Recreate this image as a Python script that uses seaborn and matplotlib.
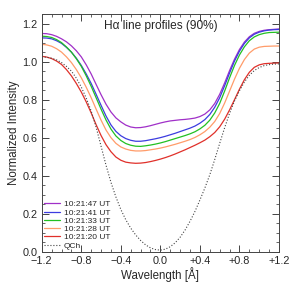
import numpy as np
import pandas as pd
import matplotlib
matplotlib.use("Agg")
import matplotlib.pyplot as plt
import seaborn as sns
from matplotlib.ticker import MultipleLocator, FuncFormatter

# wavelength from line centre [A]
wavelength = [-1.20, -1.15, -1.10, -1.05, -1.00, -0.95, -0.90, -0.85, -0.80, -0.75,
              -0.70, -0.65, -0.60, -0.55, -0.50, -0.45, -0.40, -0.35, -0.30, -0.25,
              -0.20, -0.15, -0.10, -0.05, 0.00, 0.05, 0.10, 0.15, 0.20, 0.25,
              0.30, 0.35, 0.40, 0.45, 0.50, 0.55, 0.60, 0.65, 0.70, 0.75,
              0.80, 0.85, 0.90, 0.95, 1.00, 1.05, 1.10, 1.15, 1.20]

# normalized intensity
prof_2147 = [1.148, 1.147, 1.142, 1.133, 1.120, 1.104, 1.083, 1.057, 1.025, 0.983,
             0.935, 0.880, 0.826, 0.776, 0.735, 0.704, 0.683, 0.666, 0.656, 0.652,
             0.653, 0.657, 0.663, 0.670, 0.677, 0.683, 0.688, 0.691, 0.694, 0.696,
             0.699, 0.703, 0.711, 0.724, 0.746, 0.780, 0.828, 0.888, 0.953, 1.013,
             1.064, 1.103, 1.131, 1.149, 1.159, 1.165, 1.168, 1.170, 1.172]
prof_2141 = [1.125, 1.124, 1.120, 1.110, 1.096, 1.075, 1.050, 1.018, 0.980, 0.935,
             0.885, 0.828, 0.770, 0.714, 0.667, 0.633, 0.610, 0.595, 0.586, 0.581,
             0.581, 0.584, 0.589, 0.594, 0.600, 0.607, 0.615, 0.623, 0.632, 0.641,
             0.650, 0.661, 0.676, 0.695, 0.722, 0.760, 0.810, 0.873, 0.940, 1.003,
             1.055, 1.096, 1.125, 1.144, 1.155, 1.162, 1.166, 1.168, 1.169]
prof_2133 = [1.134, 1.132, 1.127, 1.116, 1.100, 1.077, 1.050, 1.015, 0.975, 0.925,
             0.870, 0.810, 0.750, 0.693, 0.645, 0.609, 0.585, 0.569, 0.560, 0.555,
             0.554, 0.557, 0.561, 0.566, 0.572, 0.579, 0.587, 0.595, 0.603, 0.611,
             0.620, 0.631, 0.646, 0.665, 0.692, 0.730, 0.780, 0.845, 0.915, 0.980,
             1.035, 1.078, 1.110, 1.130, 1.142, 1.149, 1.153, 1.154, 1.155]
prof_2128 = [1.091, 1.088, 1.081, 1.068, 1.050, 1.025, 0.995, 0.958, 0.915, 0.865,
             0.810, 0.750, 0.692, 0.640, 0.600, 0.570, 0.551, 0.540, 0.533, 0.530,
             0.530, 0.532, 0.536, 0.540, 0.545, 0.551, 0.558, 0.565, 0.573, 0.581,
             0.590, 0.601, 0.615, 0.632, 0.655, 0.685, 0.727, 0.782, 0.845, 0.908,
             0.965, 1.011, 1.045, 1.066, 1.076, 1.080, 1.081, 1.082, 1.082]
prof_2120 = [1.028, 1.024, 1.016, 1.003, 0.985, 0.958, 0.925, 0.885, 0.840, 0.788,
             0.730, 0.668, 0.611, 0.563, 0.526, 0.498, 0.481, 0.471, 0.467, 0.465,
             0.466, 0.469, 0.474, 0.480, 0.487, 0.495, 0.504, 0.514, 0.525, 0.536,
             0.548, 0.560, 0.573, 0.587, 0.605, 0.627, 0.657, 0.697, 0.746, 0.800,
             0.855, 0.905, 0.944, 0.970, 0.983, 0.989, 0.991, 0.992, 0.993]
qch = [1.025, 1.023, 1.018, 1.009, 0.995, 0.975, 0.950, 0.913, 0.866, 0.808,
       0.740, 0.655, 0.555, 0.455, 0.365, 0.288, 0.222, 0.168, 0.124, 0.088,
       0.059, 0.036, 0.020, 0.011, 0.008, 0.013, 0.026, 0.047, 0.076, 0.114,
       0.160, 0.212, 0.272, 0.335, 0.405, 0.485, 0.570, 0.652, 0.728, 0.793,
       0.847, 0.893, 0.928, 0.953, 0.969, 0.979, 0.984, 0.987, 0.988]

times = ["10:21:47 UT", "10:21:41 UT", "10:21:33 UT", "10:21:28 UT", "10:21:20 UT"]
colors = ["#a030c8", "#3c3ce0", "#22c022", "#ff9c6a", "#e0302a"]
profiles = [prof_2147, prof_2141, prof_2133, prof_2128, prof_2120]

sns.set_style("ticks")
plt.rcParams["font.family"] = ["Liberation Sans", "DejaVu Sans"]

fig = plt.figure(figsize=(2.94, 2.94), dpi=100)
ax = fig.add_axes([0.142, 0.144, 0.807, 0.808])

handles = []
for t, c, p in zip(times, colors, profiles):
    df = pd.DataFrame({"wl": wavelength, "I": p})
    sns.lineplot(data=df, x="wl", y="I", color=c, lw=0.9, ax=ax)
    handles.append(ax.lines[-1])
df = pd.DataFrame({"wl": wavelength, "I": qch})
sns.lineplot(data=df, x="wl", y="I", color="#444444", lw=0.8, ls=":", ax=ax)
handles.append(ax.lines[-1])

ax.set_xlim(-1.2, 1.2)
ax.set_ylim(0, 1.25)
ax.xaxis.set_major_locator(MultipleLocator(0.4))
ax.xaxis.set_minor_locator(MultipleLocator(0.1))
ax.yaxis.set_major_locator(MultipleLocator(0.2))
ax.yaxis.set_minor_locator(MultipleLocator(0.05))

def fmt_x(v, pos):
    if abs(v) < 1e-9:
        return "0.0"
    s = f"{abs(v):.1f}"
    return ("+" if v > 0 else "\u2212") + s

ax.xaxis.set_major_formatter(FuncFormatter(fmt_x))
ax.yaxis.set_major_formatter(FuncFormatter(lambda v, p: f"{v:.1f}"))
ax.tick_params(which="both", direction="in", top=True, right=True, labelsize=7.8, pad=3)
ax.tick_params(which="major", length=5, width=0.6)
ax.tick_params(which="minor", length=2.5, width=0.5)
for s in ax.spines.values():
    s.set_linewidth(0.7)
    s.set_color("#444444")

ax.set_xlabel("Wavelength [\u00c5]", fontsize=8.3, labelpad=1)
ax.set_ylabel("Normalized Intensity", fontsize=8.3, labelpad=2)
ax.text(0.5, 0.975, "H\u03b1 line profiles (90%)", transform=ax.transAxes,
        ha="center", va="top", fontsize=8.6)

ax.legend(handles, times + ["QCh"], loc="lower left", fontsize=6, frameon=False,
          handlelength=2.0, handletextpad=0.4, labelspacing=0.05,
          borderaxespad=0.15, borderpad=0.1)

fig.savefig("out.png", dpi=100)
